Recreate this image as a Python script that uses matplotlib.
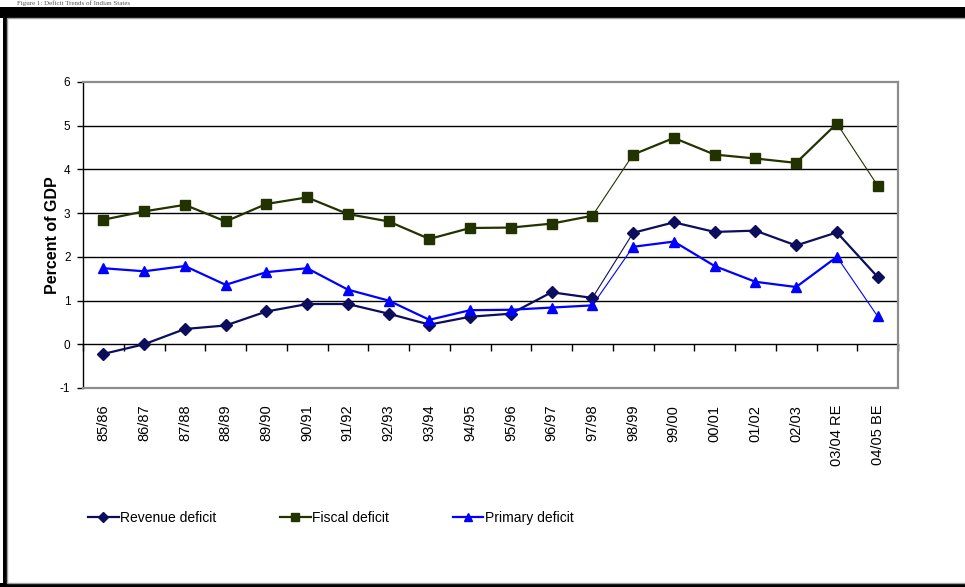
import numpy as np
import matplotlib
matplotlib.use("Agg")
import matplotlib.pyplot as plt
from matplotlib.patches import Rectangle
from matplotlib.lines import Line2D

# data (percent of GDP)
years = ["85/86", "86/87", "87/88", "88/89", "89/90", "90/91", "91/92", "92/93",
         "93/94", "94/95", "95/96", "96/97", "97/98", "98/99", "99/00", "00/01",
         "01/02", "02/03", "03/04 RE", "04/05 BE"]
revenue = [-0.22, 0.0, 0.35, 0.43, 0.75, 0.92, 0.92, 0.70, 0.45, 0.63,
           0.70, 1.19, 1.06, 2.55, 2.79, 2.57, 2.60, 2.26, 2.56, 1.54]
fiscal = [2.85, 3.04, 3.19, 2.81, 3.21, 3.36, 2.98, 2.81, 2.41, 2.66,
          2.67, 2.76, 2.94, 4.34, 4.72, 4.34, 4.25, 4.15, 5.05, 3.63]
primary = [1.74, 1.67, 1.79, 1.36, 1.65, 1.74, 1.25, 1.00, 0.56, 0.78,
           0.79, 0.84, 0.89, 2.23, 2.35, 1.79, 1.43, 1.31, 2.00, 0.64]

series = [
    ("Revenue deficit", revenue, "#0d0d5e", "D", 6.5, [12]),
    ("Fiscal deficit", fiscal, "#223300", "s", 6.5, [12, 18]),
    ("Primary deficit", primary, "#0000ff", "^", 7.5, [12, 18]),
]

sans = ["Liberation Sans", "DejaVu Sans"]

fig = plt.figure(figsize=(9.65, 5.87), dpi=100)
ax = fig.add_axes([83 / 965, 1 - 388 / 587, 815 / 965, 306 / 587])

x = np.arange(len(years))
handles = []
for name, vals, col, mk, ms, thin in series:
    vals = np.asarray(vals)
    for i in range(len(x) - 1):
        lw = 0.8 if i in thin else 1.6
        ax.plot(x[i:i + 2], vals[i:i + 2], color=col, lw=lw, zorder=3)
    ax.plot(x, vals, marker=mk, ms=ms, ls="none", color=col,
            markeredgecolor=col, zorder=4)
    handles.append(Line2D([], [], color=col, lw=1.6, marker=mk, ms=ms * 0.8,
                          markeredgecolor=col, label=name))

ax.set_xlim(-0.5, len(years) - 0.5)
ax.set_ylim(-1, 6)
ax.set_yticks(range(-1, 7))
ax.set_yticklabels([str(v) for v in range(-1, 7)], family=sans, fontsize=8.5)
for v in range(1, 6):
    ax.axhline(v, color="black", lw=1.0, zorder=1)

for s in ["top", "right", "bottom"]:
    ax.spines[s].set_color("#8c8c8c")
    ax.spines[s].set_linewidth(1.6)
ax.spines["left"].set_color("black")
ax.spines["left"].set_linewidth(1.0)
ax.tick_params(axis="y", direction="out", length=4, width=1, pad=5)

ax.set_xticks(x)
ax.set_xticklabels(years, rotation=90, family=sans, fontsize=10.5, va="top")
ax.tick_params(axis="x", length=0, pad=12)

# zero line with category boundary ticks
zax = ax.secondary_xaxis(0, transform=ax.transData)
zax.set_xticks(np.arange(-0.5, len(years) + 0.5, 1.0))
zax.set_xticklabels([])
zax.tick_params(direction="out", length=5, width=1, color="black")
zax.spines["bottom"].set_color("black")
zax.spines["bottom"].set_linewidth(1.0)

ax.set_ylabel("Percent of GDP", family=sans, fontweight="bold", fontsize=11.5,
              labelpad=0)

fig.legend(handles=handles, loc="center left", bbox_to_anchor=(88 / 965, 1 - 518 / 587),
           ncol=3, frameon=False, prop={"family": sans, "size": 10},
           handlelength=2.2, handletextpad=0.1, columnspacing=4.6,
           borderaxespad=0, borderpad=0)

# outer black frame and caption above it
fig.add_artist(Rectangle((0, 1 - 18 / 587), 1, 11 / 587, transform=fig.transFigure,
                         color="black", lw=0))
fig.add_artist(Rectangle((3 / 965, 0), 4 / 965, 1 - 7 / 587, transform=fig.transFigure,
                         color="black", lw=0))
fig.add_artist(Rectangle((0, 0), 1, 4 / 587, transform=fig.transFigure,
                         color="black", lw=0))
fig.add_artist(Rectangle((7 / 965, 4 / 587), 1, 1 - 22 / 587, transform=fig.transFigure,
                         fill=False, edgecolor="#a0a0a0", lw=1))
fig.text(0.018, 1 - 0.5 / 587, "Figure 1: Deficit Trends of Indian States",
         family=["Liberation Serif", "DejaVu Serif"], fontsize=5, va="top",
         color="#555555")

fig.savefig("out.png", dpi=100)
